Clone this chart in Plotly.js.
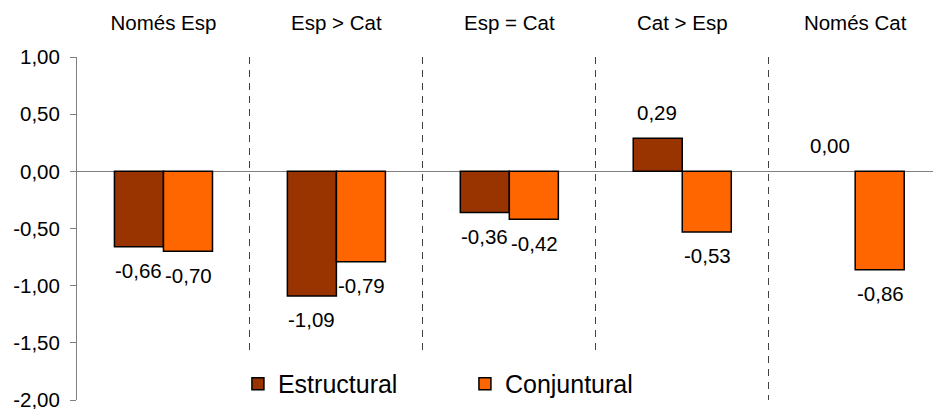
<!DOCTYPE html>
<html>
<head>
<meta charset="utf-8">
<script src="https://cdn.plot.ly/plotly-3.0.1.min.js"></script>
<style>html,body{margin:0;padding:0;background:#fff;}#chart{width:933px;height:409px;}</style>
</head>
<body>
<div id="chart"></div>
<script>
const categories = ['Només Esp', 'Esp > Cat', 'Esp = Cat', 'Cat > Esp', 'Només Cat'];
const estructural = [-0.66, -1.09, -0.36, 0.29, 0.00];
const conjuntural = [-0.70, -0.79, -0.42, -0.53, -0.86];
const yTickVals = [1, 0.5, 0, -0.5, -1, -1.5, -2];
const yTickText = ['1,00', '0,50', '0,00', '-0,50', '-1,00', '-1,50', '-2,00'];

const fmt = v => v.toFixed(2).replace('.', ',');
const FONT = 'Liberation Sans, Arial, sans-serif';
const outline = vals => vals.map(v => (v === 0 ? 0 : 1.5));

const traces = [
  {type: 'bar', name: 'Estructural', x: categories, y: estructural,
   marker: {color: '#993300', line: {color: '#000000', width: outline(estructural)}}, hoverinfo: 'none'},
  {type: 'bar', name: 'Conjuntural', x: categories, y: conjuntural,
   marker: {color: '#FF6600', line: {color: '#000000', width: outline(conjuntural)}}, hoverinfo: 'none'}
];

const annotations = [];
[[estructural, -25], [conjuntural, 25]].forEach(([vals, dx]) => {
  vals.forEach((v, i) => {
    annotations.push({
      x: categories[i], y: v, xref: 'x', yref: 'y',
      text: fmt(v), showarrow: false,
      xshift: dx, yshift: v >= 0 ? 26 : -24,
      xanchor: 'center', yanchor: 'middle',
      font: {family: FONT, size: 20.5, color: '#000'}
    });
  });
});

const layout = {
  width: 933, height: 409,
  margin: {l: 77, r: 0, t: 57, b: 9, pad: 0, autoexpand: false},
  paper_bgcolor: '#ffffff', plot_bgcolor: '#ffffff',
  font: {family: FONT, size: 20.5, color: '#000'},
  barmode: 'group', bargap: 0.433, bargroupgap: 0,
  showlegend: true,
  legend: {orientation: 'h', x: 0.181, xanchor: 'left', y: 0.047, yanchor: 'middle',
           bgcolor: '#ffffff', bordercolor: '#ffffff', borderwidth: 6,
           entrywidth: 182, entrywidthmode: 'pixels',
           font: {family: FONT, size: 25, color: '#000'},
           itemclick: false, traceorder: 'normal'},
  xaxis: {type: 'category', side: 'top', range: [-0.5, 4.45], automargin: false,
          tickson: 'boundaries', ticks: '', ticklabelstandoff: 22,
          showgrid: true, gridcolor: '#404040', gridwidth: 1, griddash: '7px,6px',
          showline: false, zeroline: false, fixedrange: true,
          tickfont: {family: FONT, size: 20.5, color: '#000'}},
  yaxis: {range: [-2, 1], tickvals: yTickVals, ticktext: yTickText, automargin: false,
          ticks: 'outside', ticklen: 6, tickcolor: '#808080', tickwidth: 1,
          ticklabelstandoff: 6, ticklabeloverflow: 'allow',
          showline: true, linecolor: '#808080', linewidth: 1,
          showgrid: false, zeroline: true, zerolinecolor: '#808080', zerolinewidth: 1,
          fixedrange: true, tickfont: {family: FONT, size: 20.5, color: '#000'}},
  annotations: annotations
};

Plotly.newPlot('chart', traces, layout, {staticPlot: true, displayModeBar: false});
</script>
</body>
</html>
